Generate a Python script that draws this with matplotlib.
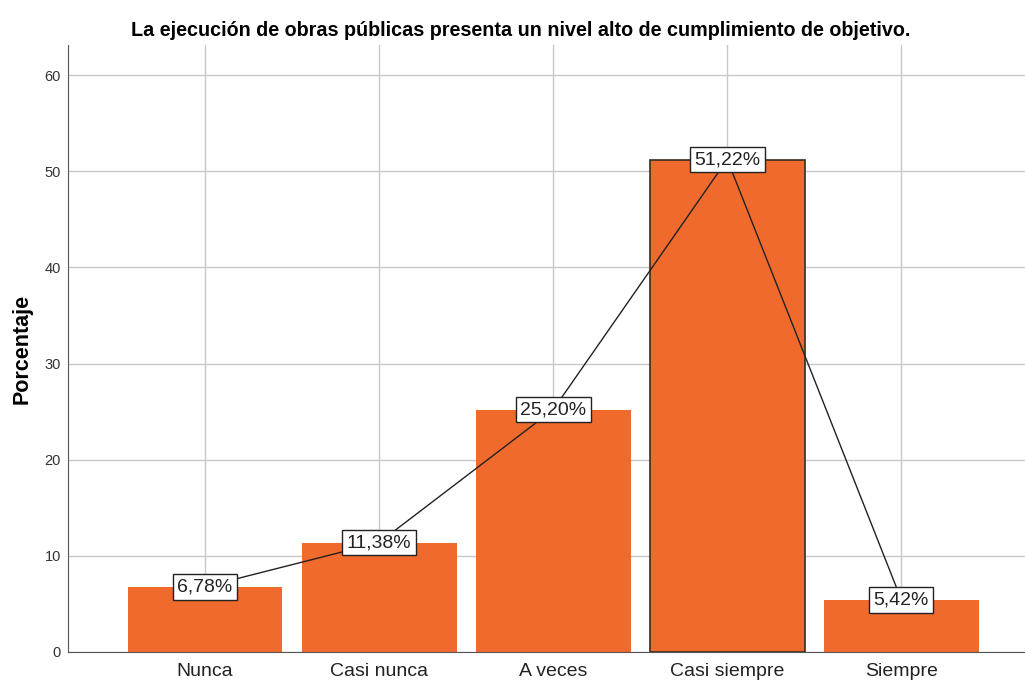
import matplotlib
matplotlib.use('Agg')
import matplotlib.pyplot as plt

plt.rcParams['font.family'] = ['Liberation Sans', 'DejaVu Sans']

# datos
categorias = ['Nunca', 'Casi nunca', 'A veces', 'Casi siempre', 'Siempre']
porcentajes = [6.78, 11.38, 25.20, 51.22, 5.42]
etiquetas = ['6,78%', '11,38%', '25,20%', '51,22%', '5,42%']
yticks = [0, 10, 20, 30, 40, 50, 60]

fig = plt.figure(figsize=(10.25, 6.86), dpi=100)
ax = fig.add_axes([0.0663, 0.0496, 0.9337, 0.8844])

x = list(range(len(categorias)))
barras = ax.bar(x, porcentajes, width=0.89, color='#EF6A2C', zorder=2)
# la barra "Casi siempre" tiene contorno oscuro
barras[3].set_edgecolor('#3a2a20')
barras[3].set_linewidth(1.2)

ax.plot(x, porcentajes, color='#222222', linewidth=1, zorder=3)

for xi, yi, txt in zip(x, porcentajes, etiquetas):
    ax.text(xi, yi, txt, ha='center', va='center', fontsize=14, zorder=4,
            color='#222222',
            bbox=dict(boxstyle='square,pad=0.22', facecolor='white',
                      edgecolor='#222222', linewidth=1))

ax.set_xlim(-0.787, 4.71)
ax.set_ylim(0, 63.1)
ax.set_yticks(yticks)
ax.set_xticks(x)
ax.set_xticklabels(categorias, fontsize=14, color='#222222')
for label in ax.get_yticklabels():
    label.set_fontsize(10.5)
    label.set_color('#333333')

ax.grid(True, color='#c8c8c8', linewidth=1, zorder=0)
ax.set_axisbelow(True)
ax.tick_params(axis='both', length=0, pad=5)
ax.tick_params(axis='x', pad=8)

ax.spines['top'].set_visible(False)
ax.spines['right'].set_visible(False)
ax.spines['left'].set_color('#555555')
ax.spines['bottom'].set_color('#555555')

ax.set_ylabel('Porcentaje', fontsize=15.5, fontweight='bold', labelpad=9)
fig.text(0.508, 0.955, 'La ejecución de obras públicas presenta un nivel alto de cumplimiento de objetivo.',
         ha='center', va='center', fontsize=14.2, fontweight='bold')

fig.savefig('out.png', dpi=100)
